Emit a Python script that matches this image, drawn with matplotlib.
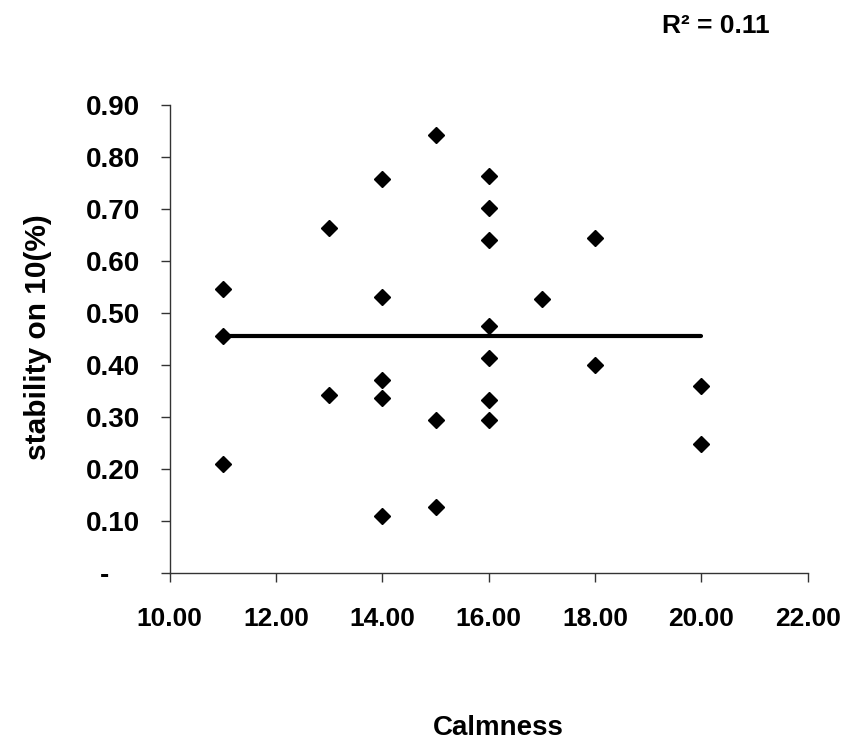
import matplotlib
matplotlib.use("Agg")
import matplotlib.pyplot as plt
import numpy as np

# data
calmness = [11, 11, 11, 13, 13, 14, 14, 14, 14, 14, 15, 15, 15,
            16, 16, 16, 16, 16, 16, 16, 17, 18, 18, 20, 20]
stability = [0.546, 0.456, 0.209, 0.664, 0.341, 0.758, 0.531, 0.370, 0.337, 0.110,
             0.843, 0.294, 0.127, 0.763, 0.702, 0.640, 0.475, 0.413, 0.332, 0.294,
             0.527, 0.645, 0.399, 0.360, 0.247]
trend_x = [11, 20]
trend_y = [0.455, 0.455]

x_ticks = [10, 12, 14, 16, 18, 20, 22]
y_ticks = [0.0, 0.1, 0.2, 0.3, 0.4, 0.5, 0.6, 0.7, 0.8, 0.9]
y_labels = ["-    "] + ["%.2f" % v for v in y_ticks[1:]]

fam = ["Liberation Sans", "DejaVu Sans"]

fig = plt.figure(figsize=(8.59, 7.43), dpi=100)
ax = fig.add_axes([0.1976, 0.2292, 0.9403 - 0.1976, 0.8587 - 0.2292])

ax.plot(trend_x, trend_y, color="black", lw=3, solid_capstyle="round", zorder=2)
ax.plot(calmness, stability, linestyle="none", marker="D", ms=7.8,
        color="black", zorder=3)

ax.set_xlim(10, 22)
ax.set_ylim(0, 0.9)
ax.set_xticks(x_ticks)
ax.set_xticklabels(["%.2f" % v for v in x_ticks])
ax.set_yticks(y_ticks)
ax.set_yticklabels(y_labels)

for s in ["top", "right"]:
    ax.spines[s].set_visible(False)
for s in ["left", "bottom"]:
    ax.spines[s].set_linewidth(1.0)
    ax.spines[s].set_color("#333333")

ax.tick_params(axis="both", direction="out", length=6.5, width=1.0, color="#333333")
ax.tick_params(axis="x", pad=18)
ax.tick_params(axis="y", pad=15)
for lab in ax.get_xticklabels():
    lab.set_family(fam)
    lab.set_fontweight("bold")
    lab.set_fontsize(19)
for lab in ax.get_yticklabels():
    lab.set_family(fam)
    lab.set_fontweight("bold")
    lab.set_fontsize(20)

fig.text(38 / 859, 0.5468, "stability on 10(%)", rotation=90, ha="center", va="center",
         family=fam, fontweight="bold", fontsize=21.5)
fig.text(0.5797, 1 - 735 / 743, "Calmness", ha="center", va="baseline",
         family=fam, fontweight="bold", fontsize=20)
fig.text(661.7 / 859, 1 - 33.3 / 743, "R² = 0.11", ha="left", va="baseline",
         family=fam, fontweight="bold", fontsize=19)

fig.savefig("out.png", dpi=100)
